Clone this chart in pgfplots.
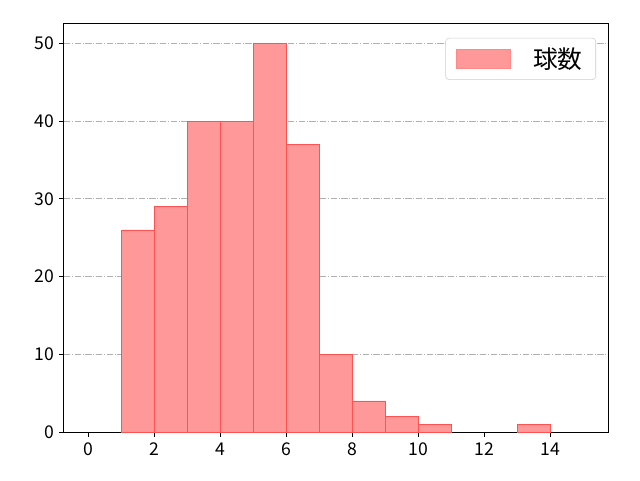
\documentclass[border=0pt]{standalone}
\usepackage{pgfplots}
\pgfplotsset{compat=1.18}
\usepackage{fontspec}
\setmainfont{Noto Sans CJK JP}
\definecolor{barfill}{RGB}{255,153,153}
\definecolor{baredge}{RGB}{255,40,40}
\begin{document}
\begin{tikzpicture}
\useasboundingbox (-48pt,-36pt) rectangle (432pt,324pt);
\begin{axis}[
  at={(0,0)}, anchor=south west,
  scale only axis, width=408pt, height=306pt,
  xmin=-0.75, xmax=15.75, ymin=0, ymax=52.5,
  xtick={0,2,...,14}, ytick={0,10,...,50},
  tick align=outside, tick pos=left,
  major tick length=3.6pt,
  every tick/.style={black, line width=0.75pt},
  axis line style={black, line width=0.75pt},
  /pgf/number format/assume math mode=true,
  ticklabel style={font=\fontsize{13.2}{15}\selectfont},
  xticklabel style={yshift=-1pt},
  ymajorgrids,
  grid style={color=black!31, dash pattern=on 4.8pt off 1.2pt on 0.8pt off 1.2pt, line width=0.6pt},
  legend style={at={(0.978,0.966)}, anchor=north east, draw=black!20, rounded corners=2.5pt,
    font=\fontsize{18.5}{20}\selectfont, inner xsep=8pt, inner ysep=5pt,
    cells={anchor=west}},
  legend image code/.code={\draw[#1, sharp corners, draw=baredge!55] (0pt,-7pt) rectangle (40pt,7pt);},
  legend cell align=left,
]
\addplot[ybar, bar width=1, bar shift=0, fill=barfill, draw=baredge!80, line width=0.6pt]
 coordinates {(1.5,26) (2.5,29) (3.5,40) (4.5,40) (5.5,50) (6.5,37) (7.5,10) (8.5,4) (9.5,2) (10.5,1) (13.5,1)};
\addlegendentry{\hspace{15pt}球数}
\end{axis}
\end{tikzpicture}
\end{document}
